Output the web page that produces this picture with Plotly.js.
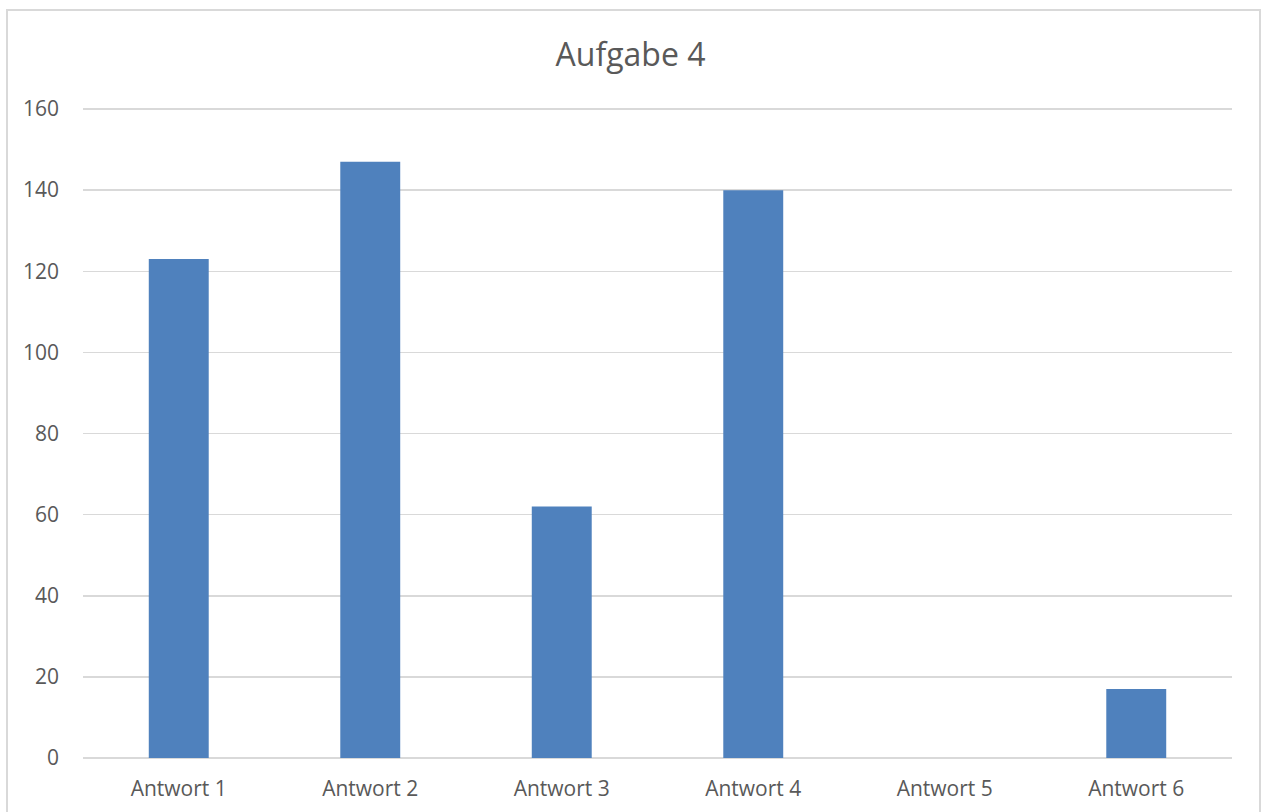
<!DOCTYPE html>
<html>
<head>
<meta charset="utf-8">
<script src="https://cdn.plot.ly/plotly-3.0.1.min.js"></script>
<style>
html, body { margin: 0; padding: 0; overflow: hidden; background: #fff; }
#chart { width: 1261px; height: 812px; }
#frame { position: absolute; left: 6px; top: 9px; width: 1251px; height: 900px; border: 2px solid #d9d9d9; pointer-events: none; }
</style>
</head>
<body>
<div id="chart"></div>
<div id="frame"></div>
<script>
const categories = ["Antwort 1", "Antwort 2", "Antwort 3", "Antwort 4", "Antwort 5", "Antwort 6"];
const values = [123, 147, 62, 140, 0, 17];
const chartTitle = "Aufgabe 4";

const fontFamily = "'Open Sans', 'Noto Sans', sans-serif";
const textColor = "#595959";

Plotly.newPlot("chart", [{
  type: "bar",
  x: categories,
  y: values,
  marker: { color: "#4f81bd" },
  hoverinfo: "x+y"
}], {
  width: 1261,
  height: 812,
  margin: { l: 83, r: 29, t: 108, b: 54 },
  paper_bgcolor: "#fff",
  plot_bgcolor: "#fff",
  bargap: 0.687,
  showlegend: false,
  title: {
    text: chartTitle,
    font: { family: fontFamily, size: 32, color: textColor },
    x: 0.5, xanchor: "center",
    y: 1 - 55 / 812, yref: "container", yanchor: "middle"
  },
  xaxis: {
    type: "category",
    showgrid: false,
    showline: false,
    ticks: "",
    tickfont: { family: fontFamily, size: 21, color: textColor },
    ticklabelstandoff: 16
  },
  yaxis: {
    range: [0, 160.25],
    tickvals: [0, 20, 40, 60, 80, 100, 120, 140, 160],
    showgrid: true,
    gridcolor: "#d9d9d9",
    gridwidth: 1.5,
    zeroline: true,
    zerolinecolor: "#d9d9d9",
    zerolinewidth: 1.5,
    showline: false,
    ticks: "",
    tickfont: { family: fontFamily, size: 21, color: textColor },
    ticklabelstandoff: 23
  }
}, { displayModeBar: false, staticPlot: true });
</script>
</body>
</html>
